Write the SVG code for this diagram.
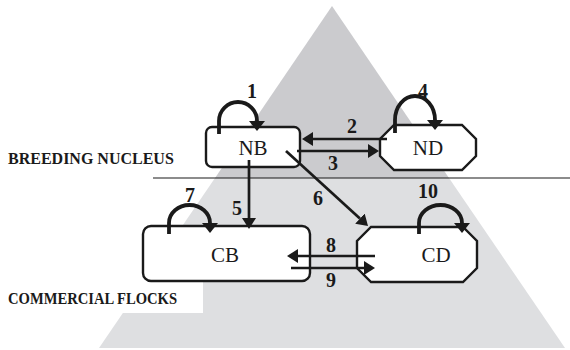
<svg xmlns="http://www.w3.org/2000/svg" width="570" height="350" viewBox="0 0 570 350">
<style>
.box{fill:#fff;stroke:#1a1a1a;stroke-width:2.4}
.lbl{font-family:'Liberation Serif','Times New Roman','DejaVu Serif',serif;font-size:21px;fill:#1a1a1a;text-anchor:middle}
.num{font-family:'Liberation Serif','Times New Roman','DejaVu Serif',serif;font-size:20px;font-weight:bold;fill:#1a1a1a;text-anchor:middle}
.sec{font-family:'Liberation Serif','Times New Roman','DejaVu Serif',serif;font-size:16px;font-weight:bold;fill:#1a1a1a}
.arr{fill:none;stroke:#1a1a1a;stroke-width:2.7;marker-end:url(#ah)}
.loop{fill:none;stroke:#1a1a1a;stroke-width:3.8;marker-end:url(#ahl)}
</style>
<defs>
<marker id="ah" viewBox="0 0 11 14" markerWidth="11" markerHeight="14" refX="0" refY="7" orient="auto" markerUnits="userSpaceOnUse">
<path d="M0,0 L11,7 L0,14 z" fill="#1a1a1a"/>
</marker>
<marker id="ahl" viewBox="0 0 10 16" markerWidth="10" markerHeight="16" refX="0" refY="8" orient="auto" markerUnits="userSpaceOnUse">
<path d="M0,0 L10,8 L0,16 z" fill="#1a1a1a"/>
</marker>
</defs>
<g id="background">
<polygon points="332,6 449,178 215,178" fill="#cbcbce"/>
<polygon points="215,178 449,178 565,348 99,348" fill="#dedfe1"/>
<rect x="0" y="260" width="203" height="53" fill="#fff"/>
<line x1="153" y1="178" x2="570" y2="178" stroke="#1a1a1a" stroke-width="1.2"/>
<text class="sec" x="8" y="164" font-family="Liberation Serif, serif">BREEDING NUCLEUS</text>
<text class="sec" x="8" y="304" font-family="Liberation Serif, serif" textLength="169" lengthAdjust="spacingAndGlyphs">COMMERCIAL FLOCKS</text>
</g>
<g id="node-NB">
<rect class="box" x="206" y="127" width="94" height="40" rx="6"/>
<text class="lbl" x="253" y="155">NB</text>
</g>
<g id="node-ND">
<polygon class="box" points="394,125 462,125 476,139 476,156 462,170 394,170 380,156 380,139"/>
<text class="lbl" x="428" y="155">ND</text>
</g>
<g id="node-CB">
<rect class="box" x="143" y="226" width="167" height="55" rx="8"/>
<text class="lbl" x="225" y="262">CB</text>
</g>
<g id="node-CD">
<polygon class="box" points="371,227 463,227 477,241 477,268 463,282 371,282 357,268 357,241"/>
<text class="lbl" x="436" y="262">CD</text>
</g>
<g id="connectors">
<path class="loop" d="M219,134 V121 A19,19 0 0 1 257,121"/>
<path class="loop" d="M395,133 V120 A20,24 0 0 1 435,120"/>
<path class="loop" d="M169,234 V223 A20.5,18 0 0 1 210,223"/>
<path class="loop" d="M419,234 V223 A21.5,18 0 0 1 462,223"/>
<path class="arr" d="M387,139 H313"/>
<path class="arr" d="M297,151 H368"/>
<path class="arr" d="M249,160 V218"/>
<path class="arr" d="M286,151 L359.9,218.6"/>
<path class="arr" d="M375,256 H298"/>
<path class="arr" d="M291,268 H364"/>
<text class="num" x="252" y="98">1</text>
<text class="num" x="352" y="133">2</text>
<text class="num" x="333" y="170">3</text>
<text class="num" x="423" y="98">4</text>
<text class="num" x="237" y="215">5</text>
<text class="num" x="318" y="205">6</text>
<text class="num" x="190" y="202">7</text>
<text class="num" x="331" y="252">8</text>
<text class="num" x="331" y="287">9</text>
<text class="num" x="428" y="198">10</text>
</g>
</svg>
